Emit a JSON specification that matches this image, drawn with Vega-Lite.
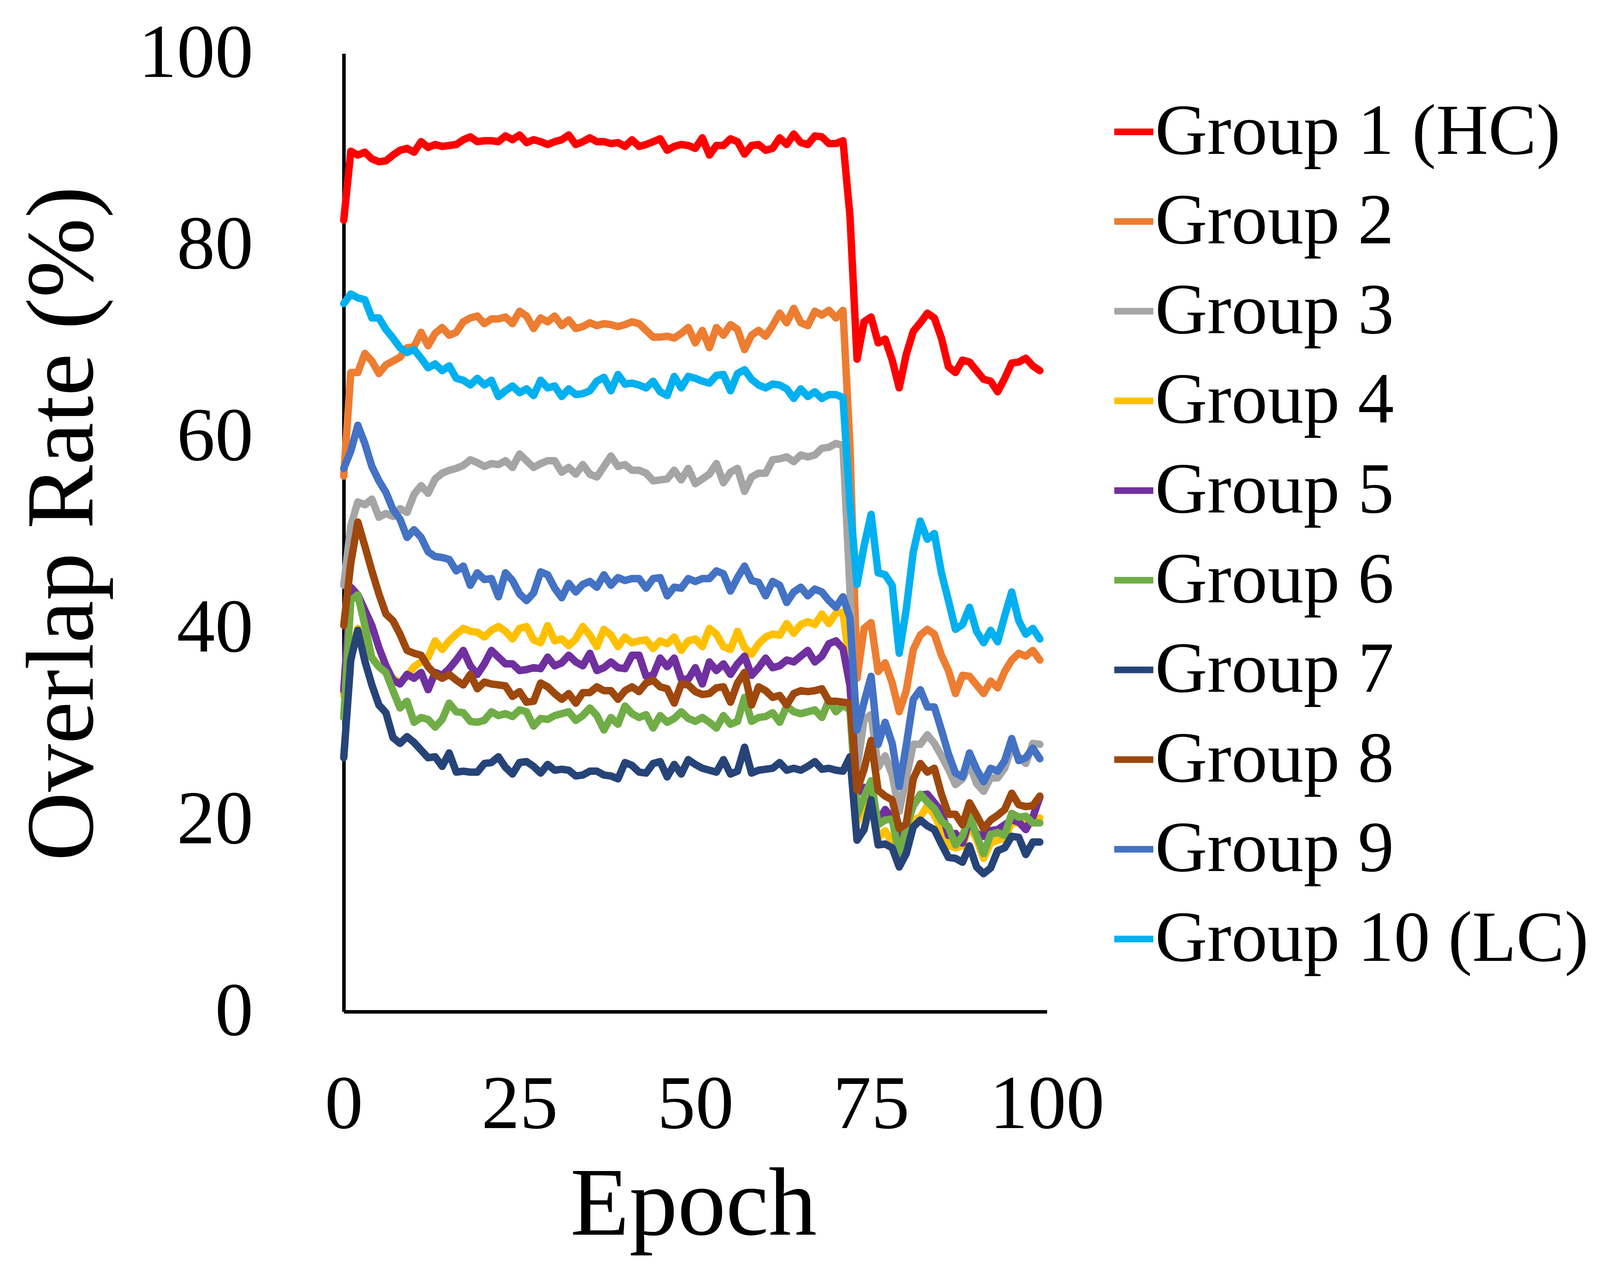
{
  "$schema": "https://vega.github.io/schema/vega-lite/v6.json",
  "description": "Overlap rate per epoch for ten groups",
  "width": 1800,
  "height": 2453,
  "autosize": {"type": "none"},
  "padding": {"left": 880, "top": 137, "right": 1458, "bottom": 687},
  "background": "white",
  "config": {"view": {"stroke": null}, "font": "Liberation Serif"},
  "data": {"values": [
    {"g":"1","e":0,"v":82.6},{"g":"1","e":1,"v":89.8},{"g":"1","e":2,"v":89.4},{"g":"1","e":3,"v":89.7},{"g":"1","e":4,"v":89.0},{"g":"1","e":5,"v":88.7},{"g":"1","e":6,"v":88.8},{"g":"1","e":7,"v":89.4},{"g":"1","e":8,"v":89.9},{"g":"1","e":9,"v":90.1},
    {"g":"1","e":10,"v":89.7},{"g":"1","e":11,"v":90.8},{"g":"1","e":12,"v":90.2},{"g":"1","e":13,"v":90.5},{"g":"1","e":14,"v":90.3},{"g":"1","e":15,"v":90.4},{"g":"1","e":16,"v":90.5},{"g":"1","e":17,"v":91.0},{"g":"1","e":18,"v":91.3},{"g":"1","e":19,"v":90.8},
    {"g":"1","e":20,"v":90.9},{"g":"1","e":21,"v":90.9},{"g":"1","e":22,"v":90.8},{"g":"1","e":23,"v":91.4},{"g":"1","e":24,"v":91.0},{"g":"1","e":25,"v":91.5},{"g":"1","e":26,"v":90.7},{"g":"1","e":27,"v":91.0},{"g":"1","e":28,"v":90.8},{"g":"1","e":29,"v":90.5},
    {"g":"1","e":30,"v":90.8},{"g":"1","e":31,"v":91.0},{"g":"1","e":32,"v":91.5},{"g":"1","e":33,"v":90.5},{"g":"1","e":34,"v":90.8},{"g":"1","e":35,"v":91.2},{"g":"1","e":36,"v":90.8},{"g":"1","e":37,"v":90.8},{"g":"1","e":38,"v":90.6},{"g":"1","e":39,"v":90.7},
    {"g":"1","e":40,"v":90.3},{"g":"1","e":41,"v":91.0},{"g":"1","e":42,"v":90.3},{"g":"1","e":43,"v":90.5},{"g":"1","e":44,"v":90.8},{"g":"1","e":45,"v":91.1},{"g":"1","e":46,"v":89.9},{"g":"1","e":47,"v":90.3},{"g":"1","e":48,"v":90.5},{"g":"1","e":49,"v":90.4},
    {"g":"1","e":50,"v":90.1},{"g":"1","e":51,"v":91.2},{"g":"1","e":52,"v":89.4},{"g":"1","e":53,"v":90.4},{"g":"1","e":54,"v":90.4},{"g":"1","e":55,"v":91.1},{"g":"1","e":56,"v":90.8},{"g":"1","e":57,"v":89.5},{"g":"1","e":58,"v":90.4},{"g":"1","e":59,"v":90.5},
    {"g":"1","e":60,"v":89.9},{"g":"1","e":61,"v":90.1},{"g":"1","e":62,"v":91.2},{"g":"1","e":63,"v":90.5},{"g":"1","e":64,"v":91.6},{"g":"1","e":65,"v":90.7},{"g":"1","e":66,"v":90.5},{"g":"1","e":67,"v":91.4},{"g":"1","e":68,"v":91.3},{"g":"1","e":69,"v":90.6},
    {"g":"1","e":70,"v":90.6},{"g":"1","e":71,"v":90.9},{"g":"1","e":72,"v":83.0},{"g":"1","e":73,"v":68.1},{"g":"1","e":74,"v":72.0},{"g":"1","e":75,"v":72.5},{"g":"1","e":76,"v":69.8},{"g":"1","e":77,"v":70.2},{"g":"1","e":78,"v":68.0},{"g":"1","e":79,"v":65.1},
    {"g":"1","e":80,"v":68.6},{"g":"1","e":81,"v":71.0},{"g":"1","e":82,"v":71.9},{"g":"1","e":83,"v":72.9},{"g":"1","e":84,"v":72.4},{"g":"1","e":85,"v":70.3},{"g":"1","e":86,"v":67.3},{"g":"1","e":87,"v":66.7},{"g":"1","e":88,"v":68.0},{"g":"1","e":89,"v":67.8},
    {"g":"1","e":90,"v":66.9},{"g":"1","e":91,"v":66.0},{"g":"1","e":92,"v":65.8},{"g":"1","e":93,"v":64.7},{"g":"1","e":94,"v":66.1},{"g":"1","e":95,"v":67.7},{"g":"1","e":96,"v":67.8},{"g":"1","e":97,"v":68.2},{"g":"1","e":98,"v":67.4},{"g":"1","e":99,"v":66.9},

    {"g":"2","e":0,"v":55.9},{"g":"2","e":1,"v":66.7},{"g":"2","e":2,"v":66.7},{"g":"2","e":3,"v":68.7},{"g":"2","e":4,"v":67.9},{"g":"2","e":5,"v":66.6},{"g":"2","e":6,"v":67.5},{"g":"2","e":7,"v":67.9},{"g":"2","e":8,"v":68.3},{"g":"2","e":9,"v":69.3},
    {"g":"2","e":10,"v":69.4},{"g":"2","e":11,"v":70.9},{"g":"2","e":12,"v":69.5},{"g":"2","e":13,"v":70.8},{"g":"2","e":14,"v":71.4},{"g":"2","e":15,"v":70.6},{"g":"2","e":16,"v":70.9},{"g":"2","e":17,"v":72.0},{"g":"2","e":18,"v":72.4},{"g":"2","e":19,"v":72.6},
    {"g":"2","e":20,"v":71.8},{"g":"2","e":21,"v":72.3},{"g":"2","e":22,"v":72.3},{"g":"2","e":23,"v":72.5},{"g":"2","e":24,"v":71.8},{"g":"2","e":25,"v":73.1},{"g":"2","e":26,"v":72.6},{"g":"2","e":27,"v":71.3},{"g":"2","e":28,"v":72.4},{"g":"2","e":29,"v":72.0},
    {"g":"2","e":30,"v":72.6},{"g":"2","e":31,"v":71.6},{"g":"2","e":32,"v":72.2},{"g":"2","e":33,"v":71.3},{"g":"2","e":34,"v":71.5},{"g":"2","e":35,"v":71.9},{"g":"2","e":36,"v":71.6},{"g":"2","e":37,"v":71.8},{"g":"2","e":38,"v":71.7},{"g":"2","e":39,"v":71.5},
    {"g":"2","e":40,"v":71.7},{"g":"2","e":41,"v":72.0},{"g":"2","e":42,"v":71.8},{"g":"2","e":43,"v":71.1},{"g":"2","e":44,"v":70.4},{"g":"2","e":45,"v":70.4},{"g":"2","e":46,"v":70.5},{"g":"2","e":47,"v":70.3},{"g":"2","e":48,"v":70.8},{"g":"2","e":49,"v":71.4},
    {"g":"2","e":50,"v":69.8},{"g":"2","e":51,"v":71.1},{"g":"2","e":52,"v":69.3},{"g":"2","e":53,"v":71.4},{"g":"2","e":54,"v":70.6},{"g":"2","e":55,"v":71.7},{"g":"2","e":56,"v":71.2},{"g":"2","e":57,"v":69.1},{"g":"2","e":58,"v":70.6},{"g":"2","e":59,"v":71.1},
    {"g":"2","e":60,"v":70.5},{"g":"2","e":61,"v":71.6},{"g":"2","e":62,"v":72.9},{"g":"2","e":63,"v":71.9},{"g":"2","e":64,"v":73.4},{"g":"2","e":65,"v":71.9},{"g":"2","e":66,"v":71.6},{"g":"2","e":67,"v":73.1},{"g":"2","e":68,"v":72.7},{"g":"2","e":69,"v":73.2},
    {"g":"2","e":70,"v":72.4},{"g":"2","e":71,"v":73.2},{"g":"2","e":72,"v":59.0},{"g":"2","e":73,"v":34.8},{"g":"2","e":74,"v":40.0},{"g":"2","e":75,"v":40.6},{"g":"2","e":76,"v":35.5},{"g":"2","e":77,"v":36.4},{"g":"2","e":78,"v":34.3},{"g":"2","e":79,"v":31.3},
    {"g":"2","e":80,"v":33.5},{"g":"2","e":81,"v":37.8},{"g":"2","e":82,"v":39.3},{"g":"2","e":83,"v":39.9},{"g":"2","e":84,"v":39.4},{"g":"2","e":85,"v":37.2},{"g":"2","e":86,"v":35.6},{"g":"2","e":87,"v":33.2},{"g":"2","e":88,"v":35.1},{"g":"2","e":89,"v":35.0},
    {"g":"2","e":90,"v":34.1},{"g":"2","e":91,"v":33.2},{"g":"2","e":92,"v":34.5},{"g":"2","e":93,"v":33.8},{"g":"2","e":94,"v":35.5},{"g":"2","e":95,"v":36.7},{"g":"2","e":96,"v":37.4},{"g":"2","e":97,"v":37.1},{"g":"2","e":98,"v":37.7},{"g":"2","e":99,"v":36.7},

    {"g":"3","e":0,"v":44.5},{"g":"3","e":1,"v":50.7},{"g":"3","e":2,"v":53.2},{"g":"3","e":3,"v":52.9},{"g":"3","e":4,"v":53.5},{"g":"3","e":5,"v":51.6},{"g":"3","e":6,"v":52.0},{"g":"3","e":7,"v":51.7},{"g":"3","e":8,"v":52.5},{"g":"3","e":9,"v":52.1},
    {"g":"3","e":10,"v":54.0},{"g":"3","e":11,"v":54.9},{"g":"3","e":12,"v":54.1},{"g":"3","e":13,"v":55.6},{"g":"3","e":14,"v":56.2},{"g":"3","e":15,"v":56.5},{"g":"3","e":16,"v":56.7},{"g":"3","e":17,"v":57.0},{"g":"3","e":18,"v":57.6},{"g":"3","e":19,"v":57.3},
    {"g":"3","e":20,"v":56.9},{"g":"3","e":21,"v":57.2},{"g":"3","e":22,"v":57.1},{"g":"3","e":23,"v":57.5},{"g":"3","e":24,"v":56.8},{"g":"3","e":25,"v":58.2},{"g":"3","e":26,"v":57.5},{"g":"3","e":27,"v":56.8},{"g":"3","e":28,"v":57.2},{"g":"3","e":29,"v":57.5},
    {"g":"3","e":30,"v":57.5},{"g":"3","e":31,"v":56.3},{"g":"3","e":32,"v":56.8},{"g":"3","e":33,"v":56.1},{"g":"3","e":34,"v":57.1},{"g":"3","e":35,"v":56.1},{"g":"3","e":36,"v":55.8},{"g":"3","e":37,"v":56.9},{"g":"3","e":38,"v":58.0},{"g":"3","e":39,"v":56.9},
    {"g":"3","e":40,"v":57.1},{"g":"3","e":41,"v":56.5},{"g":"3","e":42,"v":56.5},{"g":"3","e":43,"v":56.2},{"g":"3","e":44,"v":55.4},{"g":"3","e":45,"v":55.5},{"g":"3","e":46,"v":55.6},{"g":"3","e":47,"v":56.5},{"g":"3","e":48,"v":55.5},{"g":"3","e":49,"v":56.7},
    {"g":"3","e":50,"v":55.1},{"g":"3","e":51,"v":55.6},{"g":"3","e":52,"v":56.1},{"g":"3","e":53,"v":57.2},{"g":"3","e":54,"v":55.2},{"g":"3","e":55,"v":56.3},{"g":"3","e":56,"v":56.7},{"g":"3","e":57,"v":54.3},{"g":"3","e":58,"v":55.8},{"g":"3","e":59,"v":56.2},
    {"g":"3","e":60,"v":56.2},{"g":"3","e":61,"v":57.6},{"g":"3","e":62,"v":57.7},{"g":"3","e":63,"v":57.9},{"g":"3","e":64,"v":57.4},{"g":"3","e":65,"v":58.1},{"g":"3","e":66,"v":57.9},{"g":"3","e":67,"v":58.1},{"g":"3","e":68,"v":58.8},{"g":"3","e":69,"v":58.9},
    {"g":"3","e":70,"v":59.3},{"g":"3","e":71,"v":59.1},{"g":"3","e":72,"v":44.0},{"g":"3","e":73,"v":25.4},{"g":"3","e":74,"v":30.5},{"g":"3","e":75,"v":31.0},{"g":"3","e":76,"v":25.5},{"g":"3","e":77,"v":26.7},{"g":"3","e":78,"v":24.7},{"g":"3","e":79,"v":20.9},
    {"g":"3","e":80,"v":24.4},{"g":"3","e":81,"v":27.9},{"g":"3","e":82,"v":27.9},{"g":"3","e":83,"v":28.9},{"g":"3","e":84,"v":28.0},{"g":"3","e":85,"v":26.7},{"g":"3","e":86,"v":25.3},{"g":"3","e":87,"v":23.7},{"g":"3","e":88,"v":24.3},{"g":"3","e":89,"v":25.9},
    {"g":"3","e":90,"v":23.8},{"g":"3","e":91,"v":23.0},{"g":"3","e":92,"v":24.4},{"g":"3","e":93,"v":24.4},{"g":"3","e":94,"v":25.4},{"g":"3","e":95,"v":27.6},{"g":"3","e":96,"v":26.6},{"g":"3","e":97,"v":25.9},{"g":"3","e":98,"v":28.0},{"g":"3","e":99,"v":27.9},

    {"g":"4","e":0,"v":33.0},{"g":"4","e":1,"v":37.0},{"g":"4","e":2,"v":40.0},{"g":"4","e":3,"v":38.0},{"g":"4","e":4,"v":37.0},{"g":"4","e":5,"v":36.0},{"g":"4","e":6,"v":35.5},{"g":"4","e":7,"v":34.8},{"g":"4","e":8,"v":34.3},{"g":"4","e":9,"v":35.0},
    {"g":"4","e":10,"v":36.0},{"g":"4","e":11,"v":36.5},{"g":"4","e":12,"v":37.0},{"g":"4","e":13,"v":38.7},{"g":"4","e":14,"v":37.8},{"g":"4","e":15,"v":38.7},{"g":"4","e":16,"v":39.4},{"g":"4","e":17,"v":40.0},{"g":"4","e":18,"v":39.7},{"g":"4","e":19,"v":39.6},
    {"g":"4","e":20,"v":39.1},{"g":"4","e":21,"v":39.8},{"g":"4","e":22,"v":40.2},{"g":"4","e":23,"v":39.7},{"g":"4","e":24,"v":38.9},{"g":"4","e":25,"v":40.0},{"g":"4","e":26,"v":40.2},{"g":"4","e":27,"v":38.8},{"g":"4","e":28,"v":38.5},{"g":"4","e":29,"v":40.3},
    {"g":"4","e":30,"v":38.7},{"g":"4","e":31,"v":38.9},{"g":"4","e":32,"v":38.2},{"g":"4","e":33,"v":38.9},{"g":"4","e":34,"v":40.2},{"g":"4","e":35,"v":39.3},{"g":"4","e":36,"v":38.1},{"g":"4","e":37,"v":39.9},{"g":"4","e":38,"v":39.3},{"g":"4","e":39,"v":38.1},
    {"g":"4","e":40,"v":39.1},{"g":"4","e":41,"v":38.5},{"g":"4","e":42,"v":38.7},{"g":"4","e":43,"v":38.8},{"g":"4","e":44,"v":37.9},{"g":"4","e":45,"v":38.7},{"g":"4","e":46,"v":38.4},{"g":"4","e":47,"v":39.1},{"g":"4","e":48,"v":37.7},{"g":"4","e":49,"v":38.7},
    {"g":"4","e":50,"v":38.9},{"g":"4","e":51,"v":38.1},{"g":"4","e":52,"v":40.0},{"g":"4","e":53,"v":39.4},{"g":"4","e":54,"v":38.1},{"g":"4","e":55,"v":37.8},{"g":"4","e":56,"v":39.7},{"g":"4","e":57,"v":38.0},{"g":"4","e":58,"v":37.3},{"g":"4","e":59,"v":38.4},
    {"g":"4","e":60,"v":39.1},{"g":"4","e":61,"v":39.4},{"g":"4","e":62,"v":39.3},{"g":"4","e":63,"v":40.5},{"g":"4","e":64,"v":39.5},{"g":"4","e":65,"v":40.4},{"g":"4","e":66,"v":40.7},{"g":"4","e":67,"v":40.4},{"g":"4","e":68,"v":41.5},{"g":"4","e":69,"v":40.5},
    {"g":"4","e":70,"v":41.6},{"g":"4","e":71,"v":41.7},{"g":"4","e":72,"v":36.0},{"g":"4","e":73,"v":19.8},{"g":"4","e":74,"v":21.5},{"g":"4","e":75,"v":22.5},{"g":"4","e":76,"v":18.1},{"g":"4","e":77,"v":18.9},{"g":"4","e":78,"v":17.6},{"g":"4","e":79,"v":17.5},
    {"g":"4","e":80,"v":19.0},{"g":"4","e":81,"v":20.0},{"g":"4","e":82,"v":20.3},{"g":"4","e":83,"v":21.5},{"g":"4","e":84,"v":20.5},{"g":"4","e":85,"v":19.0},{"g":"4","e":86,"v":17.3},{"g":"4","e":87,"v":17.1},{"g":"4","e":88,"v":17.3},{"g":"4","e":89,"v":19.5},
    {"g":"4","e":90,"v":18.0},{"g":"4","e":91,"v":16.0},{"g":"4","e":92,"v":17.6},{"g":"4","e":93,"v":17.9},{"g":"4","e":94,"v":18.1},{"g":"4","e":95,"v":19.7},{"g":"4","e":96,"v":19.7},{"g":"4","e":97,"v":19.8},{"g":"4","e":98,"v":20.3},{"g":"4","e":99,"v":20.2},

    {"g":"5","e":0,"v":33.5},{"g":"5","e":1,"v":44.3},{"g":"5","e":2,"v":43.5},{"g":"5","e":3,"v":41.9},{"g":"5","e":4,"v":40.3},{"g":"5","e":5,"v":38.0},{"g":"5","e":6,"v":36.1},{"g":"5","e":7,"v":34.6},{"g":"5","e":8,"v":34.2},{"g":"5","e":9,"v":35.2},
    {"g":"5","e":10,"v":34.8},{"g":"5","e":11,"v":35.4},{"g":"5","e":12,"v":33.6},{"g":"5","e":13,"v":35.4},{"g":"5","e":14,"v":35.1},{"g":"5","e":15,"v":35.8},{"g":"5","e":16,"v":36.7},{"g":"5","e":17,"v":37.7},{"g":"5","e":18,"v":36.1},{"g":"5","e":19,"v":35.2},
    {"g":"5","e":20,"v":36.3},{"g":"5","e":21,"v":37.7},{"g":"5","e":22,"v":37.0},{"g":"5","e":23,"v":36.3},{"g":"5","e":24,"v":36.3},{"g":"5","e":25,"v":35.6},{"g":"5","e":26,"v":35.7},{"g":"5","e":27,"v":35.9},{"g":"5","e":28,"v":35.8},{"g":"5","e":29,"v":37.0},
    {"g":"5","e":30,"v":36.1},{"g":"5","e":31,"v":36.4},{"g":"5","e":32,"v":37.2},{"g":"5","e":33,"v":36.5},{"g":"5","e":34,"v":36.1},{"g":"5","e":35,"v":37.4},{"g":"5","e":36,"v":35.6},{"g":"5","e":37,"v":35.9},{"g":"5","e":38,"v":36.5},{"g":"5","e":39,"v":35.9},
    {"g":"5","e":40,"v":35.8},{"g":"5","e":41,"v":37.2},{"g":"5","e":42,"v":37.2},{"g":"5","e":43,"v":35.0},{"g":"5","e":44,"v":35.1},{"g":"5","e":45,"v":36.9},{"g":"5","e":46,"v":36.0},{"g":"5","e":47,"v":36.9},{"g":"5","e":48,"v":34.7},{"g":"5","e":49,"v":34.7},
    {"g":"5","e":50,"v":35.9},{"g":"5","e":51,"v":34.2},{"g":"5","e":52,"v":36.5},{"g":"5","e":53,"v":35.6},{"g":"5","e":54,"v":36.3},{"g":"5","e":55,"v":35.2},{"g":"5","e":56,"v":36.3},{"g":"5","e":57,"v":37.1},{"g":"5","e":58,"v":35.1},{"g":"5","e":59,"v":35.9},
    {"g":"5","e":60,"v":36.9},{"g":"5","e":61,"v":35.9},{"g":"5","e":62,"v":36.1},{"g":"5","e":63,"v":36.7},{"g":"5","e":64,"v":36.5},{"g":"5","e":65,"v":37.1},{"g":"5","e":66,"v":37.7},{"g":"5","e":67,"v":36.5},{"g":"5","e":68,"v":37.1},{"g":"5","e":69,"v":38.4},
    {"g":"5","e":70,"v":38.7},{"g":"5","e":71,"v":37.9},{"g":"5","e":72,"v":34.0},{"g":"5","e":73,"v":22.8},{"g":"5","e":74,"v":23.4},{"g":"5","e":75,"v":23.0},{"g":"5","e":76,"v":19.8},{"g":"5","e":77,"v":21.1},{"g":"5","e":78,"v":20.2},{"g":"5","e":79,"v":18.0},
    {"g":"5","e":80,"v":19.5},{"g":"5","e":81,"v":21.5},{"g":"5","e":82,"v":22.6},{"g":"5","e":83,"v":22.7},{"g":"5","e":84,"v":21.8},{"g":"5","e":85,"v":20.9},{"g":"5","e":86,"v":18.4},{"g":"5","e":87,"v":18.6},{"g":"5","e":88,"v":17.6},{"g":"5","e":89,"v":20.0},
    {"g":"5","e":90,"v":18.6},{"g":"5","e":91,"v":18.3},{"g":"5","e":92,"v":18.9},{"g":"5","e":93,"v":19.0},{"g":"5","e":94,"v":19.5},{"g":"5","e":95,"v":20.0},{"g":"5","e":96,"v":19.8},{"g":"5","e":97,"v":19.0},{"g":"5","e":98,"v":20.3},{"g":"5","e":99,"v":22.4},

    {"g":"6","e":0,"v":30.7},{"g":"6","e":1,"v":42.9},{"g":"6","e":2,"v":43.5},{"g":"6","e":3,"v":40.3},{"g":"6","e":4,"v":36.9},{"g":"6","e":5,"v":36.0},{"g":"6","e":6,"v":35.4},{"g":"6","e":7,"v":33.5},{"g":"6","e":8,"v":31.7},{"g":"6","e":9,"v":32.4},
    {"g":"6","e":10,"v":30.2},{"g":"6","e":11,"v":30.7},{"g":"6","e":12,"v":30.5},{"g":"6","e":13,"v":29.7},{"g":"6","e":14,"v":30.5},{"g":"6","e":15,"v":32.2},{"g":"6","e":16,"v":31.3},{"g":"6","e":17,"v":31.2},{"g":"6","e":18,"v":30.3},{"g":"6","e":19,"v":30.2},
    {"g":"6","e":20,"v":30.4},{"g":"6","e":21,"v":31.3},{"g":"6","e":22,"v":30.9},{"g":"6","e":23,"v":31.1},{"g":"6","e":24,"v":30.8},{"g":"6","e":25,"v":31.5},{"g":"6","e":26,"v":31.3},{"g":"6","e":27,"v":29.8},{"g":"6","e":28,"v":30.6},{"g":"6","e":29,"v":30.5},
    {"g":"6","e":30,"v":30.9},{"g":"6","e":31,"v":31.1},{"g":"6","e":32,"v":31.3},{"g":"6","e":33,"v":30.4},{"g":"6","e":34,"v":30.9},{"g":"6","e":35,"v":31.7},{"g":"6","e":36,"v":30.9},{"g":"6","e":37,"v":29.4},{"g":"6","e":38,"v":30.7},{"g":"6","e":39,"v":30.0},
    {"g":"6","e":40,"v":31.9},{"g":"6","e":41,"v":31.1},{"g":"6","e":42,"v":30.7},{"g":"6","e":43,"v":31.0},{"g":"6","e":44,"v":29.6},{"g":"6","e":45,"v":30.9},{"g":"6","e":46,"v":30.2},{"g":"6","e":47,"v":30.6},{"g":"6","e":48,"v":31.3},{"g":"6","e":49,"v":30.6},
    {"g":"6","e":50,"v":30.3},{"g":"6","e":51,"v":30.7},{"g":"6","e":52,"v":30.2},{"g":"6","e":53,"v":29.6},{"g":"6","e":54,"v":30.9},{"g":"6","e":55,"v":30.0},{"g":"6","e":56,"v":30.3},{"g":"6","e":57,"v":32.8},{"g":"6","e":58,"v":30.3},{"g":"6","e":59,"v":30.7},
    {"g":"6","e":60,"v":30.8},{"g":"6","e":61,"v":31.2},{"g":"6","e":62,"v":30.2},{"g":"6","e":63,"v":31.9},{"g":"6","e":64,"v":31.3},{"g":"6","e":65,"v":31.1},{"g":"6","e":66,"v":31.3},{"g":"6","e":67,"v":31.5},{"g":"6","e":68,"v":30.7},{"g":"6","e":69,"v":32.5},
    {"g":"6","e":70,"v":31.3},{"g":"6","e":71,"v":32.0},{"g":"6","e":72,"v":31.5},{"g":"6","e":73,"v":20.5},{"g":"6","e":74,"v":22.4},{"g":"6","e":75,"v":24.1},{"g":"6","e":76,"v":19.5},{"g":"6","e":77,"v":20.0},{"g":"6","e":78,"v":20.1},{"g":"6","e":79,"v":16.3},
    {"g":"6","e":80,"v":19.2},{"g":"6","e":81,"v":21.5},{"g":"6","e":82,"v":22.7},{"g":"6","e":83,"v":21.9},{"g":"6","e":84,"v":21.2},{"g":"6","e":85,"v":19.9},{"g":"6","e":86,"v":19.3},{"g":"6","e":87,"v":17.4},{"g":"6","e":88,"v":18.3},{"g":"6","e":89,"v":20.5},
    {"g":"6","e":90,"v":18.4},{"g":"6","e":91,"v":16.5},{"g":"6","e":92,"v":18.5},{"g":"6","e":93,"v":18.7},{"g":"6","e":94,"v":18.4},{"g":"6","e":95,"v":20.7},{"g":"6","e":96,"v":20.3},{"g":"6","e":97,"v":20.4},{"g":"6","e":98,"v":19.7},{"g":"6","e":99,"v":19.7},

    {"g":"7","e":0,"v":26.5},{"g":"7","e":1,"v":36.7},{"g":"7","e":2,"v":39.8},{"g":"7","e":3,"v":36.6},{"g":"7","e":4,"v":34.1},{"g":"7","e":5,"v":32.0},{"g":"7","e":6,"v":31.2},{"g":"7","e":7,"v":28.6},{"g":"7","e":8,"v":28.0},{"g":"7","e":9,"v":28.7},
    {"g":"7","e":10,"v":28.1},{"g":"7","e":11,"v":27.3},{"g":"7","e":12,"v":26.5},{"g":"7","e":13,"v":26.6},{"g":"7","e":14,"v":25.6},{"g":"7","e":15,"v":27.0},{"g":"7","e":16,"v":25.0},{"g":"7","e":17,"v":25.1},{"g":"7","e":18,"v":25.0},{"g":"7","e":19,"v":25.0},
    {"g":"7","e":20,"v":25.9},{"g":"7","e":21,"v":26.0},{"g":"7","e":22,"v":26.6},{"g":"7","e":23,"v":25.5},{"g":"7","e":24,"v":24.8},{"g":"7","e":25,"v":26.0},{"g":"7","e":26,"v":26.1},{"g":"7","e":27,"v":25.6},{"g":"7","e":28,"v":24.9},{"g":"7","e":29,"v":25.8},
    {"g":"7","e":30,"v":25.2},{"g":"7","e":31,"v":25.3},{"g":"7","e":32,"v":25.2},{"g":"7","e":33,"v":24.6},{"g":"7","e":34,"v":24.7},{"g":"7","e":35,"v":25.1},{"g":"7","e":36,"v":25.1},{"g":"7","e":37,"v":24.7},{"g":"7","e":38,"v":24.6},{"g":"7","e":39,"v":24.3},
    {"g":"7","e":40,"v":26.0},{"g":"7","e":41,"v":25.7},{"g":"7","e":42,"v":25.0},{"g":"7","e":43,"v":24.9},{"g":"7","e":44,"v":25.9},{"g":"7","e":45,"v":26.1},{"g":"7","e":46,"v":24.5},{"g":"7","e":47,"v":25.8},{"g":"7","e":48,"v":24.8},{"g":"7","e":49,"v":26.3},
    {"g":"7","e":50,"v":25.8},{"g":"7","e":51,"v":25.4},{"g":"7","e":52,"v":25.2},{"g":"7","e":53,"v":25.0},{"g":"7","e":54,"v":26.3},{"g":"7","e":55,"v":24.8},{"g":"7","e":56,"v":25.1},{"g":"7","e":57,"v":27.6},{"g":"7","e":58,"v":24.9},{"g":"7","e":59,"v":25.2},
    {"g":"7","e":60,"v":25.3},{"g":"7","e":61,"v":25.4},{"g":"7","e":62,"v":26.0},{"g":"7","e":63,"v":25.2},{"g":"7","e":64,"v":25.4},{"g":"7","e":65,"v":25.2},{"g":"7","e":66,"v":25.6},{"g":"7","e":67,"v":26.1},{"g":"7","e":68,"v":25.3},{"g":"7","e":69,"v":25.4},
    {"g":"7","e":70,"v":25.2},{"g":"7","e":71,"v":25.1},{"g":"7","e":72,"v":26.6},{"g":"7","e":73,"v":17.9},{"g":"7","e":74,"v":19.0},{"g":"7","e":75,"v":22.1},{"g":"7","e":76,"v":17.4},{"g":"7","e":77,"v":17.5},{"g":"7","e":78,"v":17.1},{"g":"7","e":79,"v":15.1},
    {"g":"7","e":80,"v":16.5},{"g":"7","e":81,"v":19.3},{"g":"7","e":82,"v":20.0},{"g":"7","e":83,"v":19.4},{"g":"7","e":84,"v":19.0},{"g":"7","e":85,"v":17.5},{"g":"7","e":86,"v":16.1},{"g":"7","e":87,"v":16.0},{"g":"7","e":88,"v":15.6},{"g":"7","e":89,"v":17.3},
    {"g":"7","e":90,"v":15.1},{"g":"7","e":91,"v":14.4},{"g":"7","e":92,"v":15.0},{"g":"7","e":93,"v":16.8},{"g":"7","e":94,"v":17.1},{"g":"7","e":95,"v":18.3},{"g":"7","e":96,"v":18.2},{"g":"7","e":97,"v":16.4},{"g":"7","e":98,"v":17.7},{"g":"7","e":99,"v":17.7},

    {"g":"8","e":0,"v":40.3},{"g":"8","e":1,"v":46.8},{"g":"8","e":2,"v":51.1},{"g":"8","e":3,"v":48.6},{"g":"8","e":4,"v":46.0},{"g":"8","e":5,"v":43.6},{"g":"8","e":6,"v":41.5},{"g":"8","e":7,"v":40.8},{"g":"8","e":8,"v":39.4},{"g":"8","e":9,"v":37.7},
    {"g":"8","e":10,"v":37.4},{"g":"8","e":11,"v":37.2},{"g":"8","e":12,"v":36.0},{"g":"8","e":13,"v":35.2},{"g":"8","e":14,"v":34.8},{"g":"8","e":15,"v":35.2},{"g":"8","e":16,"v":34.6},{"g":"8","e":17,"v":34.1},{"g":"8","e":18,"v":35.2},{"g":"8","e":19,"v":33.7},
    {"g":"8","e":20,"v":34.4},{"g":"8","e":21,"v":34.2},{"g":"8","e":22,"v":34.1},{"g":"8","e":23,"v":34.0},{"g":"8","e":24,"v":32.9},{"g":"8","e":25,"v":33.4},{"g":"8","e":26,"v":32.3},{"g":"8","e":27,"v":32.4},{"g":"8","e":28,"v":34.3},{"g":"8","e":29,"v":33.9},
    {"g":"8","e":30,"v":33.2},{"g":"8","e":31,"v":32.6},{"g":"8","e":32,"v":33.2},{"g":"8","e":33,"v":32.2},{"g":"8","e":34,"v":33.3},{"g":"8","e":35,"v":33.3},{"g":"8","e":36,"v":33.9},{"g":"8","e":37,"v":33.5},{"g":"8","e":38,"v":33.5},{"g":"8","e":39,"v":32.6},
    {"g":"8","e":40,"v":33.5},{"g":"8","e":41,"v":33.9},{"g":"8","e":42,"v":33.4},{"g":"8","e":43,"v":34.3},{"g":"8","e":44,"v":34.6},{"g":"8","e":45,"v":33.9},{"g":"8","e":46,"v":33.7},{"g":"8","e":47,"v":32.2},{"g":"8","e":48,"v":34.2},{"g":"8","e":49,"v":34.1},
    {"g":"8","e":50,"v":33.4},{"g":"8","e":51,"v":33.1},{"g":"8","e":52,"v":33.2},{"g":"8","e":53,"v":33.8},{"g":"8","e":54,"v":33.9},{"g":"8","e":55,"v":32.3},{"g":"8","e":56,"v":34.3},{"g":"8","e":57,"v":35.4},{"g":"8","e":58,"v":32.0},{"g":"8","e":59,"v":33.9},
    {"g":"8","e":60,"v":33.5},{"g":"8","e":61,"v":32.8},{"g":"8","e":62,"v":33.0},{"g":"8","e":63,"v":32.0},{"g":"8","e":64,"v":33.2},{"g":"8","e":65,"v":33.5},{"g":"8","e":66,"v":33.4},{"g":"8","e":67,"v":33.5},{"g":"8","e":68,"v":33.7},{"g":"8","e":69,"v":32.4},
    {"g":"8","e":70,"v":32.4},{"g":"8","e":71,"v":32.3},{"g":"8","e":72,"v":32.2},{"g":"8","e":73,"v":23.1},{"g":"8","e":74,"v":25.3},{"g":"8","e":75,"v":28.3},{"g":"8","e":76,"v":23.1},{"g":"8","e":77,"v":22.5},{"g":"8","e":78,"v":22.1},{"g":"8","e":79,"v":19.1},
    {"g":"8","e":80,"v":19.6},{"g":"8","e":81,"v":24.3},{"g":"8","e":82,"v":25.9},{"g":"8","e":83,"v":25.0},{"g":"8","e":84,"v":25.4},{"g":"8","e":85,"v":22.7},{"g":"8","e":86,"v":20.6},{"g":"8","e":87,"v":20.6},{"g":"8","e":88,"v":19.5},{"g":"8","e":89,"v":21.8},
    {"g":"8","e":90,"v":20.5},{"g":"8","e":91,"v":19.1},{"g":"8","e":92,"v":20.0},{"g":"8","e":93,"v":20.5},{"g":"8","e":94,"v":21.1},{"g":"8","e":95,"v":22.8},{"g":"8","e":96,"v":21.6},{"g":"8","e":97,"v":21.4},{"g":"8","e":98,"v":21.5},{"g":"8","e":99,"v":22.5},

    {"g":"9","e":0,"v":56.7},{"g":"9","e":1,"v":58.5},{"g":"9","e":2,"v":61.2},{"g":"9","e":3,"v":59.3},{"g":"9","e":4,"v":56.9},{"g":"9","e":5,"v":55.4},{"g":"9","e":6,"v":54.2},{"g":"9","e":7,"v":52.4},{"g":"9","e":8,"v":51.4},{"g":"9","e":9,"v":49.5},
    {"g":"9","e":10,"v":50.3},{"g":"9","e":11,"v":49.5},{"g":"9","e":12,"v":48.0},{"g":"9","e":13,"v":47.5},{"g":"9","e":14,"v":47.4},{"g":"9","e":15,"v":47.2},{"g":"9","e":16,"v":46.0},{"g":"9","e":17,"v":46.5},{"g":"9","e":18,"v":44.5},{"g":"9","e":19,"v":45.8},
    {"g":"9","e":20,"v":45.1},{"g":"9","e":21,"v":45.2},{"g":"9","e":22,"v":43.3},{"g":"9","e":23,"v":45.8},{"g":"9","e":24,"v":45.0},{"g":"9","e":25,"v":43.6},{"g":"9","e":26,"v":42.9},{"g":"9","e":27,"v":43.7},{"g":"9","e":28,"v":45.9},{"g":"9","e":29,"v":45.6},
    {"g":"9","e":30,"v":44.2},{"g":"9","e":31,"v":43.2},{"g":"9","e":32,"v":44.7},{"g":"9","e":33,"v":43.8},{"g":"9","e":34,"v":44.6},{"g":"9","e":35,"v":44.9},{"g":"9","e":36,"v":44.3},{"g":"9","e":37,"v":45.6},{"g":"9","e":38,"v":44.5},{"g":"9","e":39,"v":45.3},
    {"g":"9","e":40,"v":45.0},{"g":"9","e":41,"v":45.2},{"g":"9","e":42,"v":45.2},{"g":"9","e":43,"v":44.2},{"g":"9","e":44,"v":45.2},{"g":"9","e":45,"v":45.3},{"g":"9","e":46,"v":43.4},{"g":"9","e":47,"v":44.3},{"g":"9","e":48,"v":44.2},{"g":"9","e":49,"v":45.2},
    {"g":"9","e":50,"v":44.9},{"g":"9","e":51,"v":45.2},{"g":"9","e":52,"v":45.2},{"g":"9","e":53,"v":46.0},{"g":"9","e":54,"v":45.7},{"g":"9","e":55,"v":43.9},{"g":"9","e":56,"v":45.3},{"g":"9","e":57,"v":46.5},{"g":"9","e":58,"v":45.0},{"g":"9","e":59,"v":44.8},
    {"g":"9","e":60,"v":43.4},{"g":"9","e":61,"v":44.9},{"g":"9","e":62,"v":44.5},{"g":"9","e":63,"v":42.7},{"g":"9","e":64,"v":43.8},{"g":"9","e":65,"v":44.3},{"g":"9","e":66,"v":43.4},{"g":"9","e":67,"v":44.1},{"g":"9","e":68,"v":43.8},{"g":"9","e":69,"v":42.9},
    {"g":"9","e":70,"v":42.2},{"g":"9","e":71,"v":43.3},{"g":"9","e":72,"v":41.1},{"g":"9","e":73,"v":29.4},{"g":"9","e":74,"v":32.3},{"g":"9","e":75,"v":35.0},{"g":"9","e":76,"v":27.9},{"g":"9","e":77,"v":30.2},{"g":"9","e":78,"v":28.0},{"g":"9","e":79,"v":23.5},
    {"g":"9","e":80,"v":27.8},{"g":"9","e":81,"v":32.6},{"g":"9","e":82,"v":33.6},{"g":"9","e":83,"v":31.8},{"g":"9","e":84,"v":31.8},{"g":"9","e":85,"v":29.4},{"g":"9","e":86,"v":26.9},{"g":"9","e":87,"v":24.9},{"g":"9","e":88,"v":24.5},{"g":"9","e":89,"v":27.0},
    {"g":"9","e":90,"v":25.3},{"g":"9","e":91,"v":24.0},{"g":"9","e":92,"v":25.4},{"g":"9","e":93,"v":25.1},{"g":"9","e":94,"v":26.2},{"g":"9","e":95,"v":28.5},{"g":"9","e":96,"v":26.2},{"g":"9","e":97,"v":26.5},{"g":"9","e":98,"v":27.5},{"g":"9","e":99,"v":26.4},

    {"g":"10","e":0,"v":73.9},{"g":"10","e":1,"v":74.9},{"g":"10","e":2,"v":74.5},{"g":"10","e":3,"v":74.3},{"g":"10","e":4,"v":72.4},{"g":"10","e":5,"v":72.4},{"g":"10","e":6,"v":71.2},{"g":"10","e":7,"v":70.3},{"g":"10","e":8,"v":69.3},{"g":"10","e":9,"v":68.8},
    {"g":"10","e":10,"v":69.1},{"g":"10","e":11,"v":68.2},{"g":"10","e":12,"v":67.2},{"g":"10","e":13,"v":67.6},{"g":"10","e":14,"v":66.9},{"g":"10","e":15,"v":67.4},{"g":"10","e":16,"v":66.1},{"g":"10","e":17,"v":65.9},{"g":"10","e":18,"v":65.4},{"g":"10","e":19,"v":66.1},
    {"g":"10","e":20,"v":65.4},{"g":"10","e":21,"v":65.9},{"g":"10","e":22,"v":64.2},{"g":"10","e":23,"v":64.8},{"g":"10","e":24,"v":65.3},{"g":"10","e":25,"v":64.6},{"g":"10","e":26,"v":65.0},{"g":"10","e":27,"v":64.3},{"g":"10","e":28,"v":65.9},{"g":"10","e":29,"v":65.1},
    {"g":"10","e":30,"v":65.3},{"g":"10","e":31,"v":64.2},{"g":"10","e":32,"v":65.0},{"g":"10","e":33,"v":64.4},{"g":"10","e":34,"v":64.5},{"g":"10","e":35,"v":64.8},{"g":"10","e":36,"v":65.8},{"g":"10","e":37,"v":66.2},{"g":"10","e":38,"v":64.8},{"g":"10","e":39,"v":66.5},
    {"g":"10","e":40,"v":65.5},{"g":"10","e":41,"v":65.6},{"g":"10","e":42,"v":65.4},{"g":"10","e":43,"v":65.1},{"g":"10","e":44,"v":65.8},{"g":"10","e":45,"v":64.7},{"g":"10","e":46,"v":64.3},{"g":"10","e":47,"v":66.3},{"g":"10","e":48,"v":65.1},{"g":"10","e":49,"v":66.3},
    {"g":"10","e":50,"v":66.1},{"g":"10","e":51,"v":65.8},{"g":"10","e":52,"v":65.6},{"g":"10","e":53,"v":66.4},{"g":"10","e":54,"v":66.5},{"g":"10","e":55,"v":64.8},{"g":"10","e":56,"v":66.6},{"g":"10","e":57,"v":67.0},{"g":"10","e":58,"v":66.0},{"g":"10","e":59,"v":65.4},
    {"g":"10","e":60,"v":65.1},{"g":"10","e":61,"v":65.5},{"g":"10","e":62,"v":65.4},{"g":"10","e":63,"v":65.0},{"g":"10","e":64,"v":64.0},{"g":"10","e":65,"v":65.0},{"g":"10","e":66,"v":64.2},{"g":"10","e":67,"v":64.7},{"g":"10","e":68,"v":64.0},{"g":"10","e":69,"v":64.4},
    {"g":"10","e":70,"v":64.4},{"g":"10","e":71,"v":64.1},{"g":"10","e":72,"v":53.0},{"g":"10","e":73,"v":44.6},{"g":"10","e":74,"v":48.6},{"g":"10","e":75,"v":51.9},{"g":"10","e":76,"v":45.8},{"g":"10","e":77,"v":45.6},{"g":"10","e":78,"v":44.5},{"g":"10","e":79,"v":37.4},
    {"g":"10","e":80,"v":42.0},{"g":"10","e":81,"v":48.0},{"g":"10","e":82,"v":51.2},{"g":"10","e":83,"v":49.3},{"g":"10","e":84,"v":49.9},{"g":"10","e":85,"v":45.8},{"g":"10","e":86,"v":42.9},{"g":"10","e":87,"v":39.9},{"g":"10","e":88,"v":40.4},{"g":"10","e":89,"v":42.2},
    {"g":"10","e":90,"v":39.7},{"g":"10","e":91,"v":38.5},{"g":"10","e":92,"v":39.8},{"g":"10","e":93,"v":38.6},{"g":"10","e":94,"v":41.3},{"g":"10","e":95,"v":43.8},{"g":"10","e":96,"v":40.8},{"g":"10","e":97,"v":39.4},{"g":"10","e":98,"v":40.0},{"g":"10","e":99,"v":38.9}
  ]},
  "mark": {"type": "line", "strokeWidth": 19, "strokeJoin": "round", "strokeCap": "round"},
  "encoding": {
    "x": {
      "field": "e",
      "type": "quantitative",
      "scale": {"domain": [0, 100], "nice": false, "zero": false},
      "axis": {
        "values": [0, 25, 50, 75, 100],
        "grid": false,
        "ticks": false,
        "domainColor": "black",
        "domainWidth": 9,
        "labelFontSize": 196,
        "labelColor": "black",
        "labelPadding": 142,
        "labelLimit": 2000,
        "labelFlush": false,
        "labelOverlap": false,
        "title": "Epoch",
        "titleFontSize": 247,
        "titleFontWeight": "normal",
        "titleColor": "black",
        "titleX": 895,
        "titleY": 570,
        "titleBaseline": "alphabetic",
        "titleAlign": "center"
      }
    },
    "y": {
      "field": "v",
      "type": "quantitative",
      "scale": {"domain": [0, 100], "nice": false},
      "axis": {
        "values": [0, 20, 40, 60, 80, 100],
        "grid": false,
        "ticks": false,
        "domainColor": "black",
        "domainWidth": 9,
        "labelFontSize": 196,
        "labelColor": "black",
        "labelPadding": 232,
        "labelLimit": 2000,
        "labelFlush": false,
        "labelOverlap": false,
        "title": "Overlap Rate (%)",
        "titleFontSize": 245,
        "titleFontWeight": "normal",
        "titleColor": "black",
        "titleAngle": -90,
        "titleX": -644,
        "titleY": 1203,
        "titleBaseline": "alphabetic",
        "titleAlign": "center"
      }
    },
    "color": {
      "field": "g",
      "type": "nominal",
      "sort": ["1", "2", "3", "4", "5", "6", "7", "8", "9", "10"],
      "scale": {
        "domain": ["1", "2", "3", "4", "5", "6", "7", "8", "9", "10"],
        "range": ["#FF0000", "#ED7D31", "#A5A5A5", "#FFC000", "#7030A0", "#70AD47", "#264478", "#9E480E", "#4472C4", "#00B0F0"]
      },
      "legend": {
        "orient": "none",
        "legendX": 1930,
        "legendY": 108,
        "title": null,
        "padding": 0,
        "symbolType": "stroke",
        "symbolSize": 10000,
        "symbolStrokeWidth": 17,
        "labelFontSize": 185,
        "labelColor": "black",
        "labelOffset": -38,
        "labelLimit": 3000,
        "rowPadding": 43.6,
        "labelExpr": "datum.label == '1' ? 'Group 1 (HC)' : datum.label == '10' ? 'Group 10 (LC)' : 'Group ' + datum.label"
      }
    }
  }
}
